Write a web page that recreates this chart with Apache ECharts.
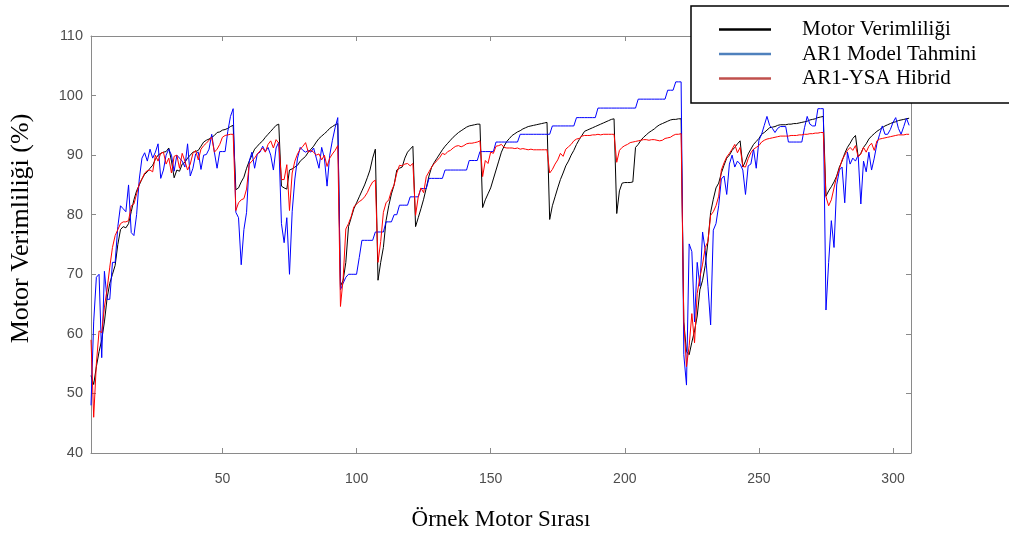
<!DOCTYPE html>
<html>
<head>
<meta charset="utf-8">
<script src="https://cdn.jsdelivr.net/npm/echarts@6/dist/echarts.min.js"></script>
<style>
html,body{margin:0;padding:0;background:#fff;}
#chart{width:1009px;height:536px;}
</style>
</head>
<body>
<div id="chart"></div>
<script>
// Sample index starts at 1
const seriesNames = ['Motor Verimliliği', 'AR1 Model Tahmini', 'AR1-YSA Hibrid'];
const xTickValues = [50, 100, 150, 200, 250, 300];
const yTickValues = [40, 50, 60, 70, 80, 90, 100, 110];

const motorEff = [
53,51.5,54.5,57,59,62,66,68.5,70,71.5,
75,77.5,78,77.8,78.5,80.5,82.5,84,85,86,
86.8,87.2,87.8,88.3,89.3,90,90.3,90.5,90.6,91.2,
89,86.2,87.5,87.3,88.5,88.8,89.5,90,90.5,90.6,
90.8,91.5,92.2,92.5,92.7,93,93.3,93.8,93.9,94.2,
94.3,94.5,94.8,95,84.2,84.5,85.5,86.3,87.8,89,
90,91,91.5,92,92.4,93,93.5,94,94.5,95,
95.2,84.8,84.5,84.3,87.5,87.7,88,88.3,89,89.4,
89.8,90.5,91,91.5,92.2,92.8,93.2,93.6,94,94.5,
94.8,95.1,95.3,68,69,72,78,79.5,81,82,
83,84,85,86.2,87.5,89.5,91,69,72,74.5,
79,81.5,83.5,85,87.5,87.8,88,89.5,90.5,91,
91.5,78,79.5,81,82.6,84.5,86.5,88,88.8,89.5,
90.2,90.9,91.5,92,92.5,93,93.4,93.8,94.1,94.4,
94.7,94.9,95,95.1,95.2,95.2,81.2,82.5,83.5,84.5,
86,87.5,89,90.5,91.5,92.3,92.8,93.3,93.6,93.9,
94.1,94.4,94.6,94.8,94.9,95,95.1,95.2,95.3,95.4,
95.5,79.2,81.5,83,84.5,85.9,87,88.2,89,90,
90.8,91.8,92.6,93.3,94,94.2,94.4,94.6,94.8,95,
95.2,95.4,95.6,95.8,96,96.1,80.2,84,85.3,85.4,
85.4,85.4,85.5,91.3,91.8,92.5,93,93.4,93.8,94.1,
94.4,94.8,95.1,95.3,95.5,95.7,95.9,96,96,96.1,
96.1,62,57,56.5,58.6,60.5,63,67.4,69,71.5,
75.5,80.4,82.6,84.5,85.3,87,88.3,89.5,90,90.8,
91.3,91.9,92.4,88,89,90.2,91,91.8,92.3,92.8,
93.5,93.8,94.2,94.6,94.7,94.8,95,95.1,95.1,95.1,
95.2,95.2,95.3,95.3,95.4,95.5,95.6,95.7,95.9,96,
96.1,96.3,96.4,96.5,83.1,84,84.7,85.5,86.5,88,
89,90.3,91.3,92,92.8,93.3,89.7,90.3,91.3,91.9,
92.7,93.2,93.6,94,94.3,94.6,94.9,95.1,95.3,95.5,
95.6,95.8,95.9,96,96.1,96.2
];

const ar1Model = [
48,62,69.5,70,56,70.5,65.8,65.8,72,72,
78,81.5,81,80.5,85,77,76.5,80,86,89.5,
90.4,89,91,89.5,90.5,91.9,86.1,87.5,90,91,
90,87.3,90,89.5,89,88,91.9,86.5,87.8,90.2,
90.5,87.6,90,90.1,91,93.5,90.5,87.8,90.6,90.6,
90.6,94,96.5,97.8,80.4,79.5,71.6,77.5,80.4,89,
90.5,87.8,90.2,90.5,91.5,90.6,91.3,90,87.5,91.2,
92.2,78.5,75.3,79.5,70,80.5,86,89.5,91.3,90.8,
90.5,90.8,90.5,91.2,89.5,87.8,91.3,89.5,84.8,90,
92.5,94.6,96.3,67.4,68.5,69.5,70,70,70,70,
72.8,75.7,75.7,75.7,75.7,75.7,77.1,77.1,77.1,77.1,
78.8,78.8,78.8,80,80,81.6,81.6,81.6,81.6,83,
83,83,83,84.4,84.4,84.4,86.1,86.1,86.1,86.1,
86.1,86.1,87.5,87.5,87.5,87.5,87.5,87.5,87.5,87.5,
87.5,89.1,89.1,89.1,89.1,90.6,90.6,90.6,90.6,90.6,
90.6,92.2,92.2,92.2,92.2,92.2,92.2,92.2,92.2,92.2,
93.5,93.5,93.5,93.5,93.5,93.5,93.5,93.5,93.5,93.5,
93.5,93.5,94.9,94.9,94.9,94.9,94.9,94.9,94.9,94.9,
94.9,96.3,96.3,96.3,96.3,96.3,96.3,96.3,96.3,97.9,
97.9,97.9,97.9,97.9,97.9,97.9,97.9,97.9,97.9,97.9,
97.9,97.9,97.9,97.9,99.4,99.4,99.4,99.4,99.4,99.4,
99.4,99.4,99.4,99.4,99.4,100.9,100.9,100.9,102.3,102.3,
102.3,56.5,51.4,75.1,73.8,62,72,68,77.1,74,
68,61.5,77.4,78.5,81.5,86,86.5,83.4,88.5,90,
88,89,88.5,87.5,83.4,88.2,88.5,91,87.8,92.5,
93.5,95,96.5,95,94.5,93.8,94.5,94.8,94.8,94.8,
92.2,92.2,92.2,92.2,92.2,92.2,94.6,96.5,95.2,94.9,
94.9,97.8,97.8,97.8,64,72,79,74.5,85,87.5,
88,82,90.5,88.5,89.5,89,90,81.8,89,87.2,
90.5,87.5,89.5,91.9,93.5,94.9,93.5,93.5,94.3,95.5,
96.3,94.5,93.5,94.8,96.2,95
];

const ar1Hybrid = [
59,46,55,60.5,60.2,64.5,67.5,71.2,74.5,76.5,
77.5,78.5,78.8,78.8,79,81.5,81.8,83.5,85.2,86,
87,87.4,87.5,87.2,90,89,90.3,90.5,88.5,89.5,
87,89.8,90,87.8,90.3,89,87.5,88.5,90.3,90.8,
89.2,91,91.6,92,92.5,93,90.5,91,91.8,93,
93.3,93.4,93.5,93.5,80.7,82,82.5,82.7,84.3,88.5,
89,89.5,90.2,90.7,91.2,90.5,91.8,92.4,91.2,92.6,
92,85.9,85.9,88.4,80.7,87,89,90.2,91,91.5,
92.1,90.5,90.8,90.5,90,90.2,89.2,90,88.1,89.5,
90.2,90.8,91.6,64.6,69.3,77.6,78.5,79.7,81.3,81.8,
82.2,82.5,83,83.7,84.7,85.5,85.8,72,75.5,80.4,
82,82.5,84,85,87,88.3,88.2,88.5,88.6,88.2,
88.6,79.9,83,84.5,83.7,86.4,87.2,88,88.6,89.1,
89.6,90.3,90.1,90.6,90.8,91.2,91.5,91.6,91.4,91.6,
91.9,92,92,92.1,92.2,92.4,86.4,89.1,88.6,90.5,
90.3,91.5,91.6,91.8,91.3,91.2,91.2,91.2,91.1,91.2,
91,91.1,91,90.9,91,90.9,90.9,90.9,90.9,90.9,
90.9,87,87.6,88.5,89.2,90.3,89.8,91,91.4,91.8,
92.4,92.7,92.8,93.2,93.3,93.3,93.3,93.4,93.4,93.5,
93.4,93.5,93.5,93.5,93.5,93.5,88.8,90.8,91.3,91.6,
91.8,92.1,92.2,92.3,92.4,92.5,92.6,92.6,92.5,92.6,
92.6,92.5,92.4,92.5,92.8,92.9,93,93.3,93.5,93.5,
93.6,62,54.5,58,63.4,58.5,66.8,69.5,71.7,74.5,
75.5,79.9,80.5,81.5,83.1,87.5,88.7,89.7,90.3,91,
91.8,90.4,91.3,88.1,88,89.4,90.4,91,91.3,91.6,
92.2,92.5,92.7,92.8,92.9,93,93.1,93.2,93.2,93.2,
93.2,93.3,93.3,93.3,93.4,93.4,93.5,93.5,93.6,93.6,
93.7,93.7,93.8,93.8,83,81.5,82.5,84.5,86.4,87.7,
89.2,90,90.8,91.3,90.8,91.6,89.7,90.2,91.3,90.5,
91.5,92,90.8,92.4,92.7,92.8,92.9,93,93.1,93.2,
93.3,93.4,93.4,93.4,93.5,93.5
];

function toPairs(arr) { return arr.map((v, i) => [i + 1, v]); }

const chart = echarts.init(document.getElementById('chart'), null, {renderer: 'canvas'});
const axisGray = '#8a8a8a';
const labelGray = '#4d4d4d';
const serif = '"Liberation Serif", "Times New Roman", serif';
const sans = '"Liberation Sans", Arial, sans-serif';

const option = {
  backgroundColor: '#ffffff',
  animation: false,
  grid: {left: 91, top: 36, width: 820, height: 428, containLabel: false},
  legend: {
    orient: 'vertical',
    left: 691,
    top: 6,
    padding: [13, 60, 14, 28],
    itemGap: 3.5,
    itemWidth: 52,
    itemHeight: 2.5,
    icon: 'rect',
    backgroundColor: '#ffffff',
    borderColor: '#000000',
    borderWidth: 1.5,
    borderRadius: 0,
    textStyle: {fontFamily: serif, fontSize: 21, color: '#000', lineHeight: 21, padding: [0, 0, 0, 26]},
    data: [
      {name: seriesNames[0], itemStyle: {color: '#000000'}},
      {name: seriesNames[1], itemStyle: {color: '#4f81bd'}},
      {name: seriesNames[2], itemStyle: {color: '#c0504d'}}
    ]
  },
  xAxis: [
    {
      type: 'value', min: 1, max: 306.7, position: 'bottom',
      name: 'Örnek Motor Sırası', nameLocation: 'middle', nameGap: 55,
      nameTextStyle: {fontFamily: serif, fontSize: 23, color: '#000'},
      axisLine: {show: true, onZero: false, lineStyle: {color: axisGray, width: 1}},
      axisTick: {show: true, inside: true, length: 5, customValues: xTickValues, lineStyle: {color: axisGray}},
      axisLabel: {show: true, customValues: xTickValues, color: labelGray, fontFamily: sans, fontSize: 14, margin: 19},
      splitLine: {show: false}
    },
    {
      type: 'value', min: 1, max: 306.7, position: 'top',
      axisLine: {show: true, onZero: false, lineStyle: {color: axisGray, width: 1}},
      axisTick: {show: true, inside: true, length: 5, customValues: xTickValues, lineStyle: {color: axisGray}},
      axisLabel: {show: false},
      splitLine: {show: false}
    }
  ],
  yAxis: [
    {
      type: 'value', min: 40, max: 110, interval: 10, position: 'left',
      name: 'Motor Verimliliği (%)', nameLocation: 'middle', nameGap: 57, nameRotate: 90,
      nameTextStyle: {fontFamily: serif, fontSize: 26, color: '#000', padding: [0, 0, 0, 32]},
      axisLine: {show: true, onZero: false, lineStyle: {color: axisGray, width: 1}},
      axisTick: {show: true, inside: true, length: 5, lineStyle: {color: axisGray}},
      axisLabel: {show: true, color: labelGray, fontFamily: sans, fontSize: 14.5, margin: 8},
      splitLine: {show: false}
    },
    {
      type: 'value', min: 40, max: 110, interval: 10, position: 'right',
      axisLine: {show: true, onZero: false, lineStyle: {color: axisGray, width: 1}},
      axisTick: {show: true, inside: true, length: 5, lineStyle: {color: axisGray}},
      axisLabel: {show: false},
      splitLine: {show: false}
    }
  ],
  series: [
    {
      name: seriesNames[0], type: 'line', data: toPairs(motorEff), showSymbol: false, symbol: 'none',
      xAxisIndex: 0, yAxisIndex: 0,
      lineStyle: {color: '#000000', width: 1}, itemStyle: {color: '#000000'}
    },
    {
      name: seriesNames[1], type: 'line', data: toPairs(ar1Model), showSymbol: false, symbol: 'none',
      xAxisIndex: 0, yAxisIndex: 0,
      lineStyle: {color: '#0000ff', width: 1}, itemStyle: {color: '#0000ff'}
    },
    {
      name: seriesNames[2], type: 'line', data: toPairs(ar1Hybrid), showSymbol: false, symbol: 'none',
      xAxisIndex: 0, yAxisIndex: 0,
      lineStyle: {color: '#ff0000', width: 1}, itemStyle: {color: '#ff0000'}
    }
  ]
};
chart.setOption(option);
</script>
</body>
</html>
